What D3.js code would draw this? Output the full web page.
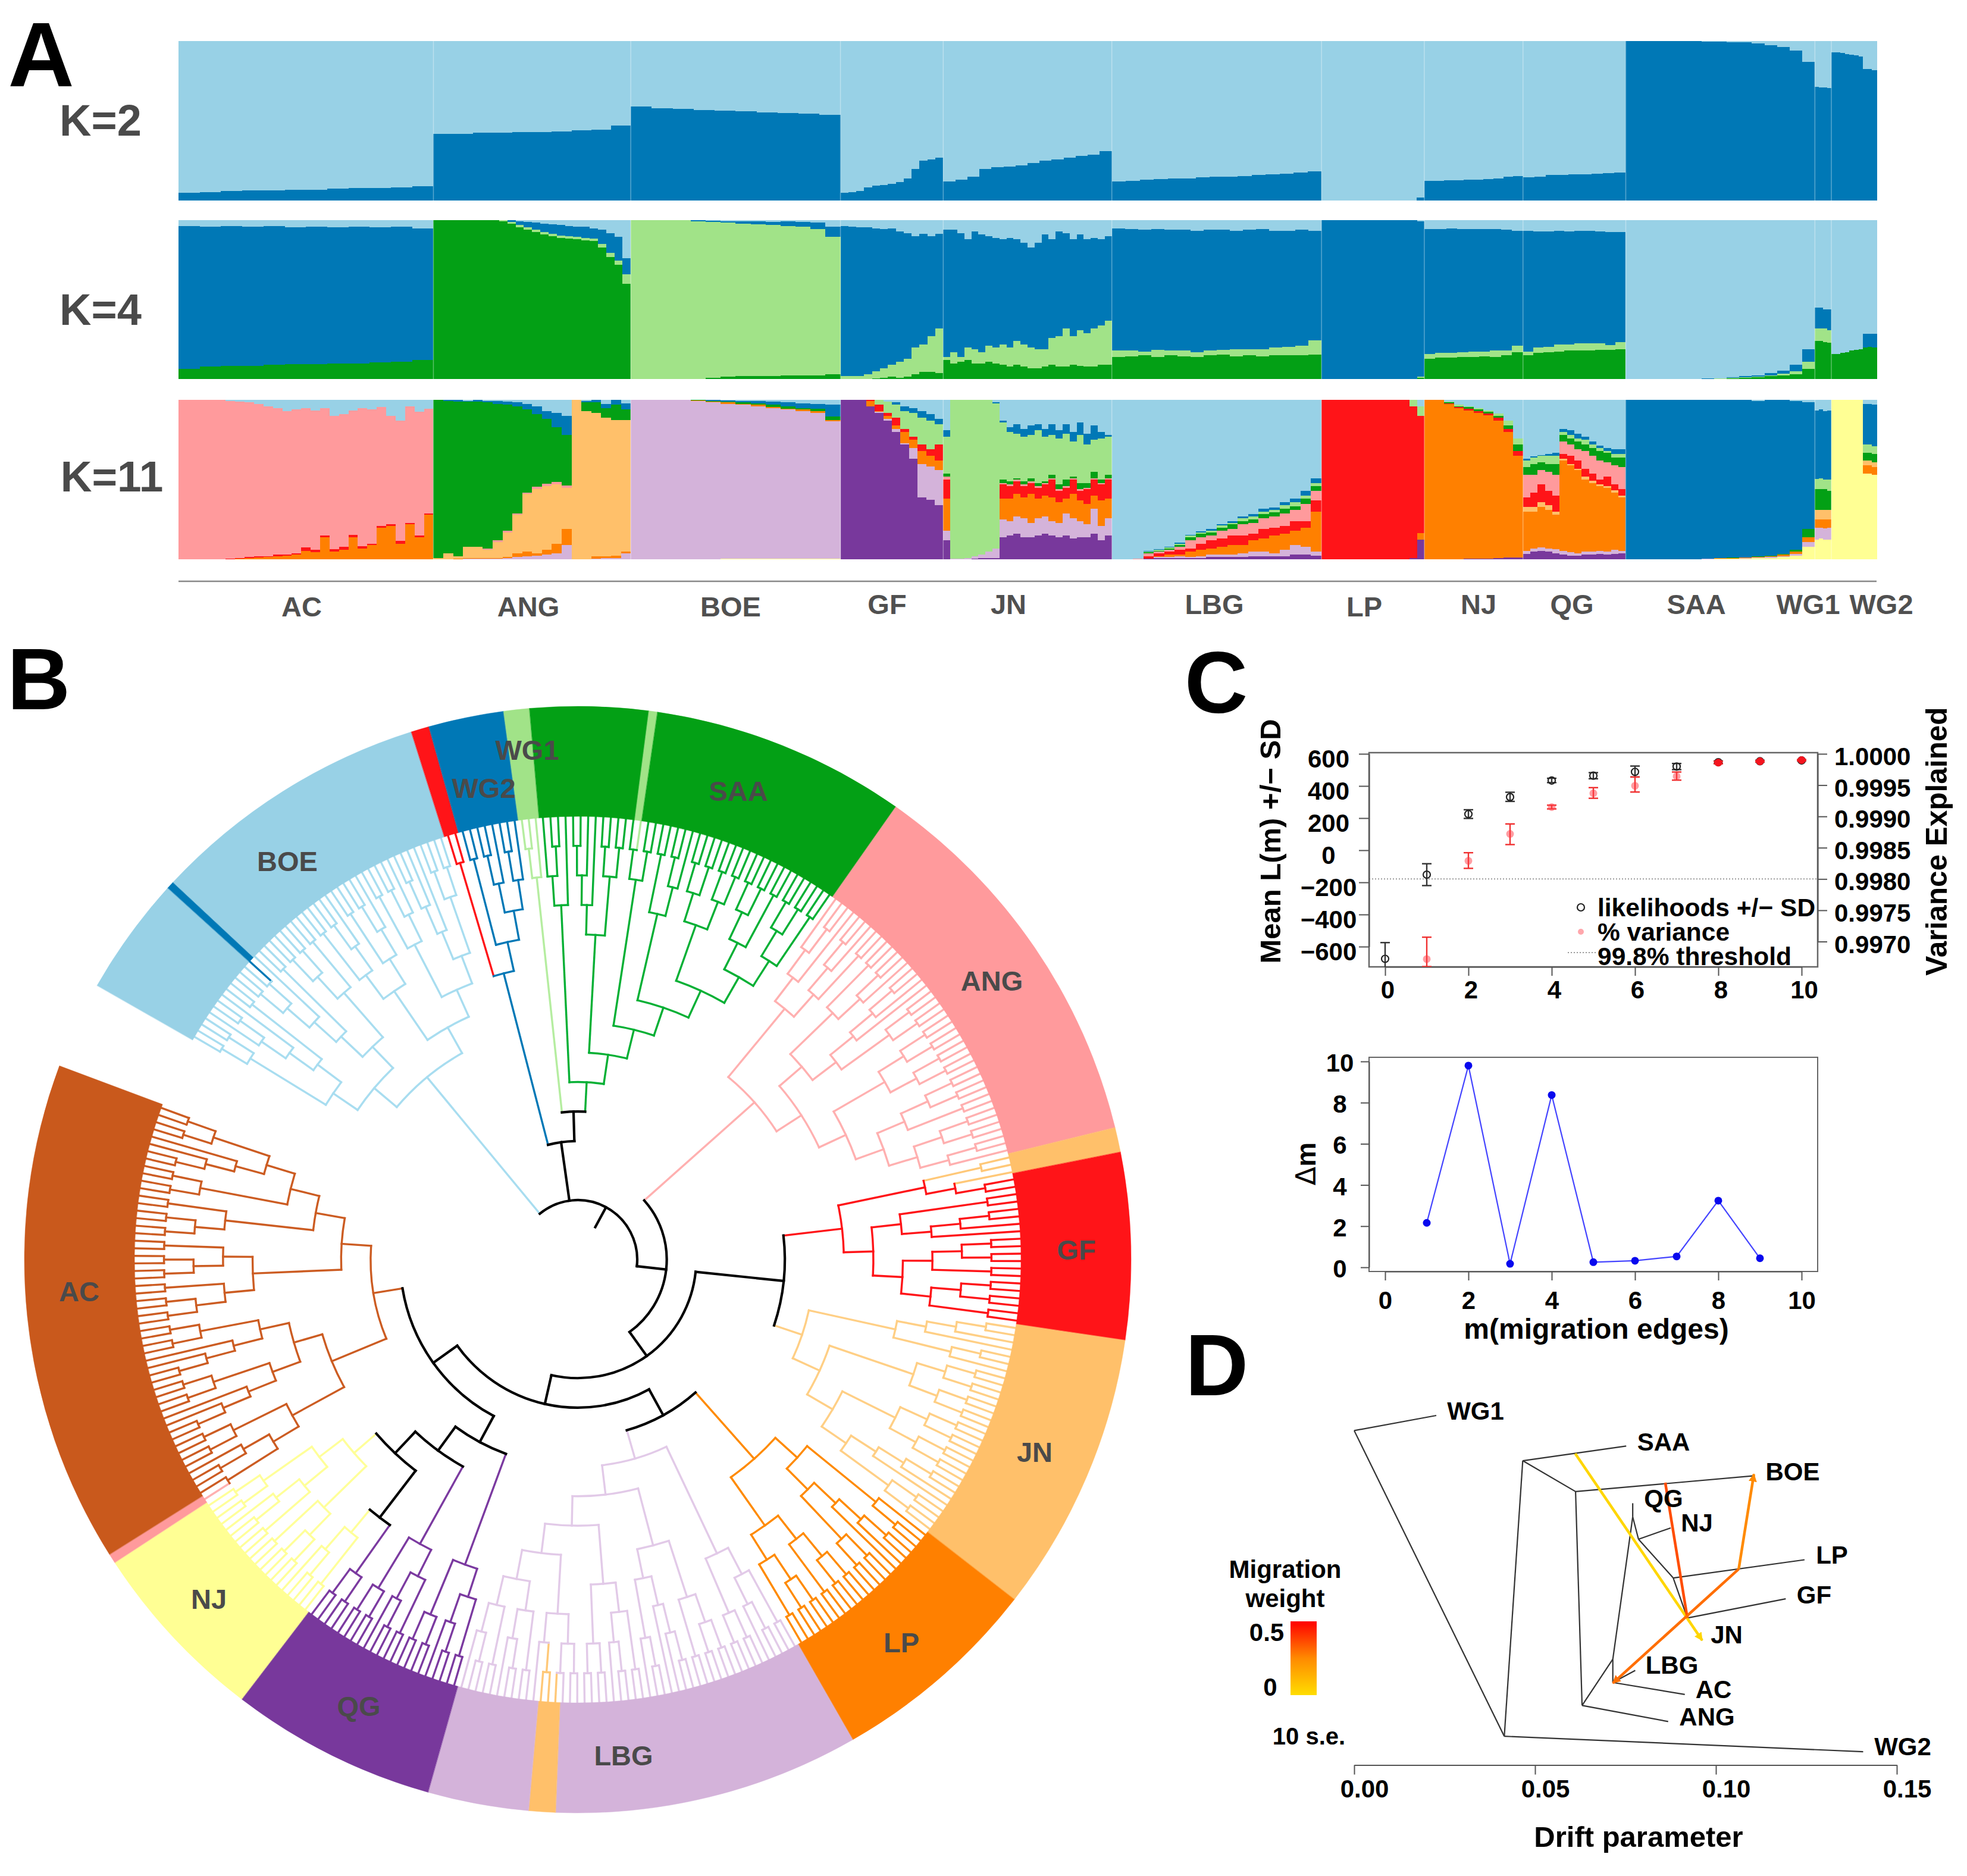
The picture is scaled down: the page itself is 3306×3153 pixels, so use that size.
<!DOCTYPE html>
<html><head><meta charset="utf-8">
<style>html,body{margin:0;padding:0;background:#fff}svg{display:block}text{font-family:"Liberation Sans",Arial,sans-serif;font-weight:700}</style>
<script src="https://cdnjs.cloudflare.com/ajax/libs/d3/7.8.5/d3.min.js"></script>
</head><body>
<svg id="c" width="3306" height="3153" viewBox="0 0 3306 3153"></svg>
<script>
// ---------- Panel A data ----------
const groups=["AC","ANG","BOE","GF","JN","LBG","LP","NJ","QG","SAA","WG1","WG2"];
const groupSizes=[62,48,51,25,41,51,25,24,25,46,4,11];
const palette={blue:"#0078B6",lb:"#98D1E6",green:"#03A015",lg:"#A1E388",pink:"#FF9A9C",lor:"#FFC06A",lilac:"#D4B3DA",purple:"#78389C",deep:"#FF8000",red:"#FF1418",yellow:"#FFFF94"};
const k2Order=["blue","lb"];
const k2=[
[[.05,.055,.06,.065,.065,.07,.07,.075,.08,.08,.085,.09]],
[[.42,.42,.425,.425,.43,.43,.435,.44,.445,.47]],
[[.59,.58,.575,.57,.565,.56,.555,.55,.545,.54]],
[[.05,.055,.06,.085,.095,.10,.105,.115,.14,.20,.25,.26,.27]],
[[.12,.13,.15,.20,.21,.215,.22,.235,.25,.26,.27,.28,.29,.31]],
[[.12,.125,.13,.135,.14,.14,.145,.15,.15,.155,.16,.165,.17,.175,.185]],
[[0,0,0,0,0,0,0,0,0,0,0,0,.02]],
[[.125,.125,.127,.127,.13,.13,.135,.14,.15,.155]],
[[.145,.15,.16,.162,.165,.167,.17,.172,.175]],
[[1,1,1,1,1,1,.998,.996,.995,.992,.985,.975,.965,.94,.87]],
[[.715,.71,.71,.705]],
[[.93,.93,.925,.92,.915,.91,.905,.825,.825,.82]]];
const k4Order=["green","lg","blue","lb"];
const k4=[
[[.065,.08,.085,.085,.09,.095,.095,.10,.10,.105,.11,.12],[.065,.08,.085,.085,.09,.095,.095,.10,.10,.105,.11,.12],[.965,.96,.965,.96,.965,.955,.96,.955,.96,.955,.96,.95]],
[[1,1,1,1,1,1,1,1,.995,.98,.955,.94,.925,.91,.90,.89,.885,.88,.875,.87,.83,.77,.72,.60],[1,1,1,1,1,1,1,1,1,.99,.97,.955,.94,.925,.915,.905,.90,.895,.89,.885,.85,.795,.745,.66],[1,1,1,1,1,1,1,1,1,1,.995,.99,.985,.98,.975,.97,.965,.96,.96,.95,.94,.92,.895,.76]],
[[0,0,0,0,0,.01,.015,.02,.02,.02,.025,.025,.025,.03],[1,1,1,1,.995,.99,.985,.98,.975,.97,.965,.96,.945,.895],[1,1,1,1,1,.998,.995,.995,.995,.99,.995,.99,.985,.96]],
[[0,0,0,0,.005,.01,.015,.01,.015,.03,.045,.045,.04],[.02,.02,.02,.03,.05,.07,.09,.11,.13,.20,.22,.27,.32],[.965,.96,.955,.955,.95,.945,.95,.93,.92,.90,.915,.90,.915]],
[[.12,.10,.11,.12,.10,.10,.11,.10,.09,.08,.09,.08,.07,.07,.08,.09,.08,.08,.09,.085,.08,.08,.09,.09],[.14,.17,.14,.20,.19,.17,.21,.20,.22,.20,.24,.22,.20,.19,.19,.26,.27,.32,.27,.31,.29,.32,.34,.37],[.94,.94,.92,.88,.93,.91,.90,.89,.88,.89,.88,.86,.83,.86,.91,.88,.93,.92,.88,.91,.88,.89,.88,.90]],
[[.14,.145,.15,.14,.15,.145,.14,.15,.155,.145,.15,.145,.15,.15,.15,.155],[.18,.18,.175,.185,.18,.18,.17,.18,.185,.19,.19,.19,.20,.205,.21,.245],[.95,.945,.94,.945,.94,.94,.935,.94,.94,.935,.94,.945,.935,.935,.94,.935]],
[[0,0,0,0,0,0,0,0,0,0,0,0,0,.01],[0,0,0,0,0,0,0,0,0,0,0,0,0,.015],[1,1,1,1,1,1,1,1,1,1,1,1,1,.995]],
[[.13,.135,.135,.14,.14,.145,.14,.15,.17],[.16,.165,.165,.17,.175,.175,.18,.18,.21],[.945,.945,.95,.945,.945,.945,.945,.94,.935]],
[[.15,.165,.17,.175,.18,.18,.18,.185,.185,.19],[.175,.20,.205,.22,.22,.225,.225,.225,.215,.235],[.935,.93,.93,.935,.93,.935,.935,.93,.925,.925]],
[[0,0,0,0,0,0,0,.002,.005,.01,.012,.02,.025,.03,.065],[0,0,0,0,0,0,.002,.003,.007,.012,.015,.025,.035,.05,.11],[0,0,0,0,0,0,.003,.004,.012,.018,.025,.04,.055,.09,.19]],
[[.24,.24,.235,.23],[.32,.32,.32,.31],[.45,.45,.44,.44]],
[[.16,.16,.165,.17,.18,.185,.19,.20,.205,.20],[.16,.16,.165,.17,.18,.185,.19,.20,.205,.20],[.16,.16,.165,.17,.18,.185,.19,.285,.285,.285]]];
const k11Orders=[
["deep","red","pink","lb"],
["lilac","deep","lor","pink","green","blue","lb"],
["yellow","lilac","deep","green","blue","lb"],
["purple","lilac","deep","red","lg","blue","lb"],
["purple","lilac","deep","red","pink","green","lg","blue","lb"],
["purple","lilac","deep","red","pink","green","lg","blue","lb"],
["purple","deep","red","lg","lb"],
["purple","deep","red","green","lg","lb"],
["purple","lilac","deep","lor","red","pink","green","lg","blue","lb"],
["yellow","lilac","deep","green","blue","lb"],
["yellow","lilac","deep","lor","green","lg","blue","lb"],
["yellow","deep","lor","green","lg","blue","lb"]];
const k11=[
[[0,0,0,0,0,.002,.005,.01,.012,.015,.02,.025,.03,.055,.045,.14,.05,.06,.14,.07,.09,.20,.21,.10,.22,.14,.28],
 [0,0,0,0,0,.004,.008,.015,.02,.02,.03,.03,.04,.075,.06,.15,.065,.08,.155,.085,.10,.21,.22,.115,.23,.15,.29],
 [1,1,1,1,1,.995,.99,.985,.975,.96,.95,.93,.94,.95,.935,.95,.90,.91,.935,.95,.94,.955,.90,.87,.96,.925,.945]],
[[0,0,0,.005,.005,.005,.005,.01,.015,.02,.025,.03,.04,.09,0,0,.005,.01,.01,.04],
 [0,.002,.005,.01,.01,.01,.01,.015,.04,.05,.04,.06,.10,.19,.002,.002,.02,.02,.025,.05],
 [.01,.04,.02,.08,.08,.06,.11,.17,.28,.41,.44,.46,.47,.45,1,.93,.92,.89,.875,.875],
 [.01,.04,.02,.08,.08,.07,.12,.18,.29,.42,.455,.475,.485,.465,1,.93,.92,.89,.875,.875],
 [1,.995,.99,.99,.99,.985,.975,.97,.96,.94,.91,.88,.83,.78,1,.985,.985,.95,.97,.94],
 [1,1,1,.995,1,.995,.995,.99,.985,.975,.96,.93,.92,.90,1,.995,1,.975,1,.98]],
[[0,0,0,0,0,.002,.003,.004,.005,.004,.004,.005,.006,.005],
 [1,1,1,1,.995,.985,.975,.97,.96,.95,.94,.93,.92,.865],
 [1,1,1,1,.998,.99,.985,.975,.97,.955,.945,.94,.93,.875],
 [1,1,1,1,1,.995,.99,.985,.98,.97,.96,.95,.945,.895],
 [1,1,1,1,1,1,.998,.995,.995,.99,.985,.98,.975,.97]],
[[1,1,1,.96,.92,.87,.80,.72,.63,.39,.375,.34],
 [1,1,1,.96,.925,.88,.82,.73,.70,.60,.585,.56],
 [1,1,1,.995,.93,.90,.84,.80,.75,.68,.65,.62],
 [1,1,1,1,.97,.92,.89,.82,.77,.72,.69,.72],
 [1,1,1,1,1,.99,.97,.93,.92,.89,.87,.85],
 [1,1,1,1,1,.99,.985,.96,.95,.93,.91,.88]],
[[.12,0,0,0,.005,.01,.01,.01,.14,.15,.16,.14,.14,.15,.16,.15,.14,.15,.13,.14,.14,.16,.12,.15],
 [.18,.005,.005,.01,.02,.03,.05,.07,.25,.24,.27,.26,.23,.26,.27,.24,.23,.29,.26,.24,.22,.32,.21,.26],
 [.38,.005,.005,.01,.02,.03,.05,.07,.38,.38,.41,.39,.41,.38,.40,.39,.36,.38,.41,.37,.35,.40,.37,.38],
 [.50,.005,.005,.01,.02,.03,.05,.07,.47,.46,.49,.46,.48,.45,.47,.50,.43,.45,.50,.43,.44,.50,.47,.50],
 [.52,.005,.005,.01,.02,.03,.05,.07,.48,.47,.50,.47,.49,.46,.48,.51,.44,.46,.51,.44,.45,.51,.48,.51],
 [.54,.005,.005,.01,.02,.03,.05,.07,.50,.49,.51,.49,.51,.48,.49,.53,.47,.50,.52,.48,.48,.55,.50,.53],
 [.77,1,1,1,1,1,1,.98,.86,.80,.79,.77,.78,.81,.77,.78,.76,.79,.74,.78,.72,.75,.76,.77],
 [.81,1,1,1,1,1,1,.985,.87,.83,.85,.82,.84,.85,.82,.85,.81,.85,.80,.86,.79,.84,.80,.78]],
[[0,0,0,.003,.01,.01,.01,.01,.01,.015,.015,.015,.015,.02,.02,.02,.02,.03,.03,.025],
 [0,0,0,.005,.015,.015,.02,.015,.02,.03,.03,.03,.04,.05,.05,.04,.06,.09,.08,.05],
 [0,0,0,.005,.02,.03,.03,.05,.06,.07,.08,.09,.09,.12,.13,.15,.16,.18,.20,.30],
 [0,0,.002,.02,.04,.05,.06,.07,.10,.12,.13,.15,.15,.16,.19,.20,.21,.24,.24,.37],
 [0,0,.003,.04,.05,.06,.08,.12,.14,.15,.18,.19,.22,.23,.26,.27,.29,.31,.35,.43],
 [0,0,.004,.045,.055,.07,.09,.14,.16,.17,.20,.22,.24,.25,.285,.295,.32,.335,.38,.46],
 [0,0,.005,.05,.06,.075,.10,.15,.17,.18,.215,.23,.26,.27,.30,.31,.34,.36,.40,.48],
 [0,0,.006,.055,.065,.08,.105,.155,.175,.19,.22,.24,.27,.285,.32,.325,.36,.38,.43,.51]],
[[0,0,0,0,0,0,0,0,0,0,0,0,.01,.125],
 [0,0,0,0,0,0,0,0,0,0,0,0,.01,.165],
 [1,1,1,1,1,1,1,1,1,1,1,1,.96,.90],
 [1,1,1,1,1,1,1,1,1,1,1,1,1,.96]],
[[0,0,0,.002,.004,.004,.006,.01,.012,.014],
 [1,1,.975,.95,.935,.92,.905,.87,.80,.65],
 [1,1,.98,.955,.945,.93,.915,.89,.82,.68],
 [1,1,.985,.96,.955,.94,.925,.90,.84,.72],
 [1,1,.99,.97,.96,.95,.935,.915,.87,.76]],
[[.035,.05,.055,.05,.04,.03,.025,.025,.03,.03,.035,.03,.035,.04],
 [.055,.07,.075,.07,.065,.055,.045,.04,.05,.05,.055,.05,.06,.055],
 [.30,.30,.33,.31,.28,.62,.59,.56,.50,.48,.46,.45,.42,.39],
 [.33,.33,.36,.34,.30,.63,.60,.57,.52,.495,.47,.46,.435,.40],
 [.39,.42,.47,.43,.40,.66,.65,.62,.57,.54,.50,.52,.47,.44],
 [.53,.53,.56,.55,.53,.74,.72,.69,.68,.65,.62,.61,.59,.58],
 [.58,.60,.61,.60,.60,.78,.76,.74,.72,.70,.68,.67,.64,.64],
 [.62,.64,.65,.65,.65,.80,.78,.76,.75,.72,.70,.68,.66,.66],
 [.63,.645,.655,.66,.67,.82,.81,.79,.77,.74,.715,.70,.69,.69]],
[[0,0,0,0,0,0,.002,.003,.004,.005,.008,.01,.015,.025,.08],
 [0,0,0,0,0,0,.003,.004,.006,.008,.012,.015,.02,.035,.11],
 [0,0,0,0,0,.002,.005,.007,.01,.012,.016,.02,.03,.05,.14],
 [0,0,0,0,0,.002,.006,.008,.011,.014,.018,.024,.035,.06,.19],
 [1,1,1,1,1,1,1,1,1,1,.995,1,1,.995,.985]],
[[.125,.13,.125,.125],[.20,.20,.195,.20],[.25,.25,.25,.25],[.31,.31,.31,.31],[.44,.44,.44,.43],[.505,.51,.50,.50],[.935,.94,.93,.935]],
[[1,1,1,1,1,1,1,.54,.54,.53],[1,1,1,1,1,1,1,.59,.59,.58],[1,1,1,1,1,1,1,.62,.62,.61],[1,1,1,1,1,1,1,.67,.67,.66],[1,1,1,1,1,1,1,.72,.72,.71],[1,1,1,1,1,1,1,.975,.975,.97]]];

// ---------- Panel B data: dot = leaf, brackets join branches ----------
const s4="((..)(..))",s5="((..)((..).))",s6a="(((..)(..))(..))",s6b="(((.(..)).)(..))",s6c="((((..)(..)).)(..))",s7a="(((..)(..))((..).))",s7b="((((..).).)((..).))",s8a="(((..)(..))((..)(..)))",s8b="((((..).).)((..)(..)))",s9="(((..)((..).))((..)(..)))",s10=`(${s5}${s5})`;
const treeBOE=`(((${s4}${s6b})(${s6c}${s6a}))(${s10}(${s5}${s8b})))`;
const treeWG2="((..)((..)(((..).)((..).))))";
const treeWG1="((..).)";
const treeGreen=`(((.(..)).)(${s8b}(${s4}(${s5}(${s8a}(${s6a}${s6a}))))))`;
const treeANG=`((((.(..)).)(((..).)(..)))((${s5}${s8b})(${s8a}(${s6a}${s7a}))))`;
const treeGF=`(((..)(.(..)))(((..)(((..).).))(${s6a}${s6a})))`;
const treeJN=`(${s7b}(${s8a}(${s8a}${s8b})))`;
const treeLP=`(((.(..))${s8b})(${s6a}${s6a}))`;
const treeLBG=`(${s9}((${s6a}${s7b})(${s9}(${s7a}${s10}))))`;
const treeQGa=s9, treeQGb=s9, treeQGc=s4, treeNJb=s5;
const treeNJa=`(${s6a}${s9})`;
const treeAC=`((${s9}(${s8b}${s8b}))((${s6a}${s6a})(${s6a}(${s4}${s8b}))))`;
const cladeTrees={BOE:treeBOE,WG2:treeWG2,WG1:treeWG1,Green:treeGreen,ANG:treeANG,GF:treeGF,JN:treeJN,LP:treeLP,LBG:treeLBG,QGa:treeQGa,QGb:treeQGb,QGc:treeQGc,NJb:treeNJb,NJa:treeNJa,AC:treeAC};
const cladeSpans={BOE:[-60.3,-17.5],WG2:[-17.5,-7.7],WG1:[-7.7,-5],Green:[-5,35.1],ANG:[35.1,76.2],GF:[76.2,98.4],JN:[98.4,127.9],LP:[127.9,150.2],LBG:[150.2,195.7],QGa:[195.7,204.5],QGb:[204.5,213.2],QGc:[213.2,217.4],NJb:[217.4,222.3],NJa:[222.3,236.8],AC:[236.8,290.5]};
const cladeColors={BOE:"#A8DDF0",WG2:"#0078B6",WG1:"#B5EDA0",Green:"#06B035",ANG:"#FFB0B0",GF:"#FF1418",JN:"#FFCF85",LP:"#FF8A00",LBG:"#E2CAE8",QGa:"#7B3AA0",QGb:"#7B3AA0",QGc:"#7B3AA0",NJb:"#FFFF99",NJa:"#FFFF99",AC:"#CC5C22"};
const rootShape=["BOE",["WG2",["WG1","Green"]],["ANG",[["GF","JN"],[["LP","LBG"],[["QGa",["QGb",[["QGc","NJb"],"NJa"]]],"AC"]]]]];
// sector: start, end, ring colour, branch colour
const sectors=[[-60.3,-47.8,"#98D1E6","#A8DDF0"],[-47.8,-47,"#0078B6","#0078B6"],[-47,-17.5,"#98D1E6","#A8DDF0"],[-17.5,-15.6,"#FF1418","#FF1418"],[-15.6,-7.7,"#0078B6","#0078B6"],[-7.7,-5,"#A1E388","#B5EDA0"],[-5,7.4,"#03A015","#06B035"],[7.4,8.3,"#A1E388","#B5EDA0"],[8.3,35.1,"#03A015","#06B035"],[35.1,76.2,"#FF9A9C","#FFB0B0"],[76.2,78.8,"#FFC06A","#FFC878"],[78.8,98.4,"#FF1418","#FF1418"],[98.4,127.9,"#FFC06A","#FFCF85"],[127.9,150.2,"#FF8000","#FF8A00"],[150.2,182.3,"#D4B3DA","#E2CAE8"],[182.3,185.1,"#FFC06A","#FFC878"],[185.1,195.7,"#D4B3DA","#E2CAE8"],[195.7,217.4,"#78389C","#7B3AA0"],[217.4,236.8,"#FFFF94","#FFFF99"],[236.8,237.8,"#FF9A9C","#FFB0B0"],[237.8,290.5,"#C9591C","#CC5C22"]];
const ringLabels=["BOE","WG1","WG2","SAA","ANG","GF","JN","LP","LBG","QG","NJ","AC"];

// ---------- Panel C data ----------
const migEdges=[0,1,2,3,4,5,6,7,8,9,10];
const likMean=[-676,-152,225,331,434,464,488,521,548,554,559];
const likHigh=[-575,-84,252,361,448,483,524,540,556,560,562];
const likLow=[-790,-220,198,304,421,445,456,502,540,548,556];
const varEdges=[1,2,3,4,5,6,7,8,9,10];
const varMean=[.99672,.99829,.99872,.99915,.99937,.99949,.99964,.99986,.99988,.99990];
const varHigh=[.99707,.99842,.99888,.99918,.99946,.99963,.99971,.99988,.99989,.99991];
const varLow=[.9966,.99817,.99855,.99912,.99929,.99939,.99958,.99984,.99987,.99989];
const threshold=.998;
const deltaEdges=[1,2,3,4,5,6,7,8,9];
const deltaM=[2.16,9.8,.17,8.37,.25,.32,.53,3.24,.44];

// ---------- Panel D data: drift, vertical tree position ----------
const treeNodes={W:[0,.268],WG1:[.0227,.224],Root:[.0415,1.16],WG2:[.1407,1.205],S:[.0466,.356],SAA:[.0752,.313],B:[.0612,.446],BOE:[.1105,.4],C:[.063,1.07],ANG:[.0868,1.117],E:[.0715,.935],F:[.0715,1.003],LBG:[.0777,.968],AC:[.0914,1.038],G:[.077,.52],QG:[.077,.48],H:[.0786,.585],NJ:[.0875,.552],I:[.0882,.698],LP:[.1245,.645],J:[.0921,.815],GF:[.1193,.759],JN:[.0962,.88]};
const treeEdges=[["W","WG1"],["W","Root"],["Root","WG2"],["Root","S"],["S","SAA"],["S","B"],["B","BOE"],["B","C"],["C","ANG"],["C","E"],["E","F"],["F","LBG"],["F","AC"],["E","G"],["G","QG"],["G","H"],["H","NJ"],["H","I"],["I","LP"],["I","J"],["J","GF"],["J","JN"]];
// from, to, weight
const migrations=[[[.0611,.335],[.0962,.88],.02,true],[[.086,.42],[.0921,.815],.36,false],[[.1063,.672],[.1105,.395],.25,true],[[.1063,.672],[.0715,1.005],.3,true]];
const driftTicks=[0,.05,.1,.15];

// ---------- Drawing ----------
const svg=d3.select("#c");
svg.append("rect").attr("width",3306).attr("height",3153).attr("fill","#fff");
function txt(x,y,s,size,o={}){return svg.append("text").attr("x",x).attr("y",y).attr("dy",".36em").attr("text-anchor",o.anchor||"middle").attr("font-size",size).attr("fill",o.fill||"#000").attr("transform",o.rot?`rotate(${o.rot},${x},${y})`:null).text(s);}

// Panel A
const cum=d3.cumsum(groupSizes);
const groupX=d3.scaleLinear([0,cum[cum.length-1]],[300,3154]);
function structRow(top,bottom,tables,ordersFor){
  const y=d3.scaleLinear([0,1],[bottom,top]);
  const g=svg.append("g").attr("shape-rendering","crispEdges");
  tables.forEach((table,gi)=>{
    const x0=groupX(gi?cum[gi-1]:0),x1=groupX(cum[gi]);
    const order=ordersFor(gi),n=d3.max(table,s=>s.length);
    const cx=d3.scaleLinear([0,n],[x0,x1]);
    const cells=[];
    d3.range(n).forEach(c=>{
      let prev=0;
      order.forEach((name,si)=>{
        const v=si<table.length?Math.max(prev,table[si][c]??prev):1;
        if(v>prev)cells.push({c,y0:prev,y1:v,name});
        prev=v;
      });
    });
    g.selectAll(null).data(cells).join("rect")
      .attr("x",d=>cx(d.c)).attr("width",d=>cx(d.c+1)-cx(d.c)+.6)
      .attr("y",d=>y(d.y1)).attr("height",d=>y(d.y0)-y(d.y1)+.3)
      .attr("fill",d=>palette[d.name]);
  });
  svg.append("g").selectAll("line").data(cum.slice(0,-1)).join("line")
    .attr("x1",d=>groupX(d)).attr("x2",d=>groupX(d)).attr("y1",top).attr("y2",bottom)
    .attr("stroke","#fff").attr("stroke-opacity",.35).attr("stroke-width",1.5);
}
structRow(69,337,k2,()=>k2Order);
structRow(370,637,k4,()=>k4Order);
structRow(672,940,k11,i=>k11Orders[i]);
svg.append("line").attr("x1",300).attr("x2",3154).attr("y1",977).attr("y2",977).attr("stroke","#888").attr("stroke-width",2.5);
const groupLabelPos=[[507,1019],[888,1019],[1228,1019],[1491,1015],[1695,1015],[2041,1015],[2293,1019],[2485,1015],[2642,1015],[2851,1015],[3039,1015],[3162,1015]];
groups.forEach((g,i)=>txt(groupLabelPos[i][0],groupLabelPos[i][1],g,47,{fill:"#505050"}));
txt(169,201,"K=2",74,{fill:"#4a4a4a"});txt(169,519,"K=4",74,{fill:"#4a4a4a"});txt(188,800,"K=11",73,{fill:"#4a4a4a"});
txt(69,90,"A",154);txt(65,1139,"B",147);txt(2044,1145,"C",147);txt(2045,2292,"D",147);

// Panel B
function parseTree(s){let i=0;function rec(){if(s[i]==="."){i++;return {};}i++;const ch=[];while(s[i]!==")")ch.push(rec());i++;return {children:ch};}return rec();}
function compose(x){if(typeof x==="string"){const o=parseTree(cladeTrees[x]);o.clade=x;return o;}return {children:x.map(compose)};}
const rad=d=>d*Math.PI/180;
const rScale=d3.scaleLinear([0,13],[745,100]);
const root=d3.hierarchy(compose(rootShape));
root.each(n=>{if(n.data.clade){const [a,b]=cladeSpans[n.data.clade];const lv=n.leaves();const sc=d3.scaleLinear([0,lv.length],[a,b]);lv.forEach((l,i)=>l.angle=sc(i+.5));n.each(m=>m.clade=n.data.clade);}});
const sectorOf=a=>sectors.find(s=>a>=s[0]&&a<=s[1])||sectors[0];
root.eachAfter(n=>{
  if(!n.children){n.col=sectorOf(n.angle)[3];return;}
  n.angle=(n.children[0].angle+n.children[n.children.length-1].angle)/2;
  if(!n.clade){n.col="#000";return;}
  const cs=new Set(n.leaves().map(l=>l.col));
  n.col=cs.size===1?[...cs][0]:cladeColors[n.clade];
});
const tree=svg.append("g").attr("transform","translate(971,2117)").attr("fill","none").attr("stroke-linecap","square");
const lineOf=(a,r0,r1)=>{const p=d3.path(),s=d3.pointRadial(rad(a),r0),e=d3.pointRadial(rad(a),r1);p.moveTo(s[0],s[1]);p.lineTo(e[0],e[1]);return p.toString();};
const arcOf=(a0,a1,r)=>{const p=d3.path();p.arc(0,0,r,rad(a0)-Math.PI/2,rad(a1)-Math.PI/2,false);return p.toString();};
const widthOf=c=>c==="#000"?4.2:3.4;
tree.selectAll("path.l").data(root.links()).join("path").attr("class","l")
  .attr("d",d=>lineOf(d.target.angle,rScale(d.source.height),rScale(d.target.height)))
  .attr("stroke",d=>d.target.col).attr("stroke-width",d=>widthOf(d.target.col));
tree.selectAll("path.a").data(root.descendants().filter(d=>d.children)).join("path").attr("class","a")
  .attr("d",d=>arcOf(d.children[0].angle,d.children[d.children.length-1].angle,rScale(d.height)))
  .attr("stroke",d=>d.col).attr("stroke-width",d=>widthOf(d.col));
tree.append("path").attr("d",lineOf(root.angle,rScale(13),62)).attr("stroke","#000").attr("stroke-width",4.2);
const ring=d3.arc().innerRadius(745).outerRadius(930);
tree.selectAll("path.s").data(sectors).join("path").attr("class","s")
  .attr("d",d=>ring({startAngle:rad(d[0]),endAngle:rad(d[1])})).attr("fill",d=>d[2]).attr("stroke",d=>d[2]).attr("stroke-width",.5);
const ringLabelPos=[[483,1447],[886,1260],[813,1324],[1241,1329],[1667,1648],[1809,2100],[1739,2440],[1515,2760],[1048,2950],[603,2867],[351,2687],[133,2170]];
ringLabels.forEach((s,i)=>txt(ringLabelPos[i][0],ringLabelPos[i][1],s,47,{fill:"#4a4a4a"}));

// Panel C top
const boxX0=2301,boxX1=3055;
const xC=d3.scaleLinear([0,10],[2328,3028]);
const yL=d3.scaleLinear([-600,600],[1591,1267]);
const yR=d3.scaleLinear([.997,1],[1582.5,1267]);
svg.append("clipPath").attr("id","cTop").append("rect").attr("x",boxX0).attr("y",1265).attr("width",boxX1-boxX0).attr("height",360);
svg.append("rect").attr("x",boxX0).attr("y",1265).attr("width",boxX1-boxX0).attr("height",360).attr("fill","none").attr("stroke","#666").attr("stroke-width",2.5);
svg.append("line").attr("x1",boxX0).attr("x2",boxX1).attr("y1",yR(threshold)).attr("y2",yR(threshold)).attr("stroke","#999").attr("stroke-width",2).attr("stroke-dasharray","2 3");
function styleAxis(g){g.select(".domain").attr("stroke","#555").attr("stroke-width",2);g.selectAll(".tick line").attr("stroke","#555").attr("stroke-width",2);g.selectAll("text").attr("fill","#000").attr("font-size",42).attr("font-family",'"Liberation Sans",Arial,sans-serif');return g;}
const axBottom=svg.append("g").attr("transform","translate(0,1625)").call(d3.axisBottom(xC).tickValues([0,2,4,6,8,10]).tickSize(15).tickSizeOuter(0));
styleAxis(axBottom);axBottom.selectAll("text").attr("dy",null).attr("y",38).attr("dominant-baseline","central").attr("dx",4);
const axLeft=svg.append("g").attr("transform",`translate(${boxX0},0)`).call(d3.axisLeft(yL).tickValues([-600,-400,-200,0,200,400,600]).tickSize(17).tickSizeOuter(0));
styleAxis(axLeft);axLeft.selectAll("text").attr("text-anchor","middle").attr("x",-68).attr("dy",null).attr("dominant-baseline","central").attr("y",8);
const axRight=svg.append("g").attr("transform",`translate(${boxX1},0)`).call(d3.axisRight(yR).tickValues([.997,.9975,.998,.9985,.999,.9995,1]).tickFormat(d3.format(".4f")).tickSize(16).tickSizeOuter(0));
styleAxis(axRight);axRight.selectAll("text").attr("x",28).attr("dy",null).attr("dominant-baseline","central").attr("y",4);
const cPlot=svg.append("g").attr("clip-path","url(#cTop)");
function errBars(xs,lo,hi,col,sc){
  const g=cPlot.append("g").attr("stroke",col).attr("stroke-width",2.4);
  xs.forEach((m,i)=>{
    g.append("line").attr("x1",xC(m)).attr("x2",xC(m)).attr("y1",sc(lo[i])).attr("y2",sc(hi[i]));
    [lo[i],hi[i]].forEach(v=>g.append("line").attr("x1",xC(m)-8).attr("x2",xC(m)+8).attr("y1",sc(v)).attr("y2",sc(v)));
  });
}
errBars(migEdges,likLow,likHigh,"#333",yL);
cPlot.append("g").selectAll("circle").data(migEdges).join("circle").attr("cx",d=>xC(d)).attr("cy",(d,i)=>yL(likMean[i])).attr("r",6).attr("fill","none").attr("stroke","#222").attr("stroke-width",2.2);
errBars(varEdges,varLow,varHigh,"#F03030",yR);
cPlot.append("g").selectAll("circle").data(varEdges).join("circle").attr("cx",d=>xC(d)).attr("cy",(d,i)=>yR(varMean[i])).attr("r",6.5).attr("fill",(d,i)=>i>=7?"#F5141E":"rgba(255,60,70,.5)");
svg.append("circle").attr("cx",2657).attr("cy",1525).attr("r",6).attr("fill","none").attr("stroke","#222").attr("stroke-width",2.2);
svg.append("circle").attr("cx",2657).attr("cy",1566).attr("r",5).attr("fill","rgba(255,60,70,.45)");
svg.append("line").attr("x1",2635).attr("x2",2682).attr("y1",1601).attr("y2",1601).attr("stroke","#999").attr("stroke-width",2).attr("stroke-dasharray","2 3");
txt(2685,1525,"likelihoods +/− SD",42.5,{anchor:"start"});
txt(2685,1566,"% variance",42.5,{anchor:"start"});
txt(2685,1607,"99.8% threshold",42.5,{anchor:"start"});
txt(2134,1414,"Mean L(m) +/− SD",49,{rot:-90});
txt(3254,1414,"Variance Explained",49.5,{rot:-90});

// Panel C bottom
const yD=d3.scaleLinear([0,10],[2130,1784]);
svg.append("rect").attr("x",boxX0).attr("y",1777).attr("width",boxX1-boxX0).attr("height",360).attr("fill","none").attr("stroke","#666").attr("stroke-width",2);
const axB2=svg.append("g").attr("transform","translate(0,2137)").call(d3.axisBottom(xC).tickValues([0,2,4,6,8,10]).tickSize(15).tickSizeOuter(0));
styleAxis(axB2);axB2.selectAll("text").attr("dy",null).attr("y",48).attr("dominant-baseline","central");
const axL2=svg.append("g").attr("transform",`translate(${boxX0},0)`).call(d3.axisLeft(yD).tickValues([0,2,4,6,8,10]).tickSize(14).tickSizeOuter(0));
styleAxis(axL2);axL2.selectAll("text").attr("text-anchor","middle").attr("x",-49).attr("dy",null).attr("dominant-baseline","central").attr("y",2);
svg.append("path").attr("fill","none").attr("stroke","#4444FF").attr("stroke-width",2.2)
  .attr("d",d3.line().x((d,i)=>xC(deltaEdges[i])).y(d=>yD(d))(deltaM));
svg.append("g").selectAll("circle").data(deltaM).join("circle").attr("cx",(d,i)=>xC(deltaEdges[i])).attr("cy",d=>yD(d)).attr("r",6.5).attr("fill","#0808EE");
const dm=txt(2194,1956,"",46,{rot:-90});
dm.append("tspan").attr("font-weight",400).attr("font-family","DejaVu Sans").text("Δ");
dm.append("tspan").text("m");
txt(2683,2233,"m(migration edges)",48);

// Panel D
const xD=d3.scaleLinear([0,.15],[2276,3188]);
const yT=d3.scaleLinear([0,1],[2250,2826]);
const defs=svg.append("defs");
const migColor=d3.scaleLinear([0,.25,.5],["#FFDD00","#FF8A00","#FF0000"]);
const grad=defs.append("linearGradient").attr("id","mw").attr("x1",0).attr("y1",1).attr("x2",0).attr("y2",0);
[0,.5,1].forEach(t=>grad.append("stop").attr("offset",t).attr("stop-color",migColor(t*.5)));
svg.append("g").selectAll("line").data(treeEdges).join("line")
  .attr("x1",d=>xD(treeNodes[d[0]][0])).attr("y1",d=>yT(treeNodes[d[0]][1]))
  .attr("x2",d=>xD(treeNodes[d[1]][0])).attr("y2",d=>yT(treeNodes[d[1]][1]))
  .attr("stroke","#333").attr("stroke-width",2.2);
migrations.forEach((m,i)=>{
  const c=migColor(m[2]);
  if(m[3]){const mk=defs.append("marker").attr("id","ah"+i).attr("viewBox","0 0 10 10").attr("refX",9).attr("refY",5).attr("markerUnits","userSpaceOnUse").attr("markerWidth",14).attr("markerHeight",14).attr("orient","auto");
    mk.append("path").attr("d","M0,0L10,5L0,10z").attr("fill",c);}
  svg.append("line").attr("x1",xD(m[0][0])).attr("y1",yT(m[0][1])).attr("x2",xD(m[1][0])).attr("y2",yT(m[1][1]))
    .attr("stroke",c).attr("stroke-width",4.5).attr("marker-end",m[3]?`url(#ah${i})`:null);
});
const tipPos=[["WG1",2480,2371],["SAA",2796,2423],["BOE",3013,2473],["QG",2796,2518],["NJ",2852,2559],["LP",3079,2613],["GF",3049,2680],["JN",2902,2747],["LBG",2810,2798],["AC",2880,2839],["ANG",2869,2885],["WG2",3198,2935]];
tipPos.forEach(d=>txt(d[1],d[2],d[0],42));
const axD=svg.append("g").attr("transform","translate(0,2966.5)").call(d3.axisBottom(xD).tickValues(driftTicks).tickFormat(d3.format(".2f")).tickSize(16).tickSizeOuter(0));
styleAxis(axD);axD.selectAll("text").attr("dy",null).attr("y",40).attr("dominant-baseline","central").attr("dx",17);
txt(2754,3086,"Drift parameter",49);
svg.append("rect").attr("x",2169).attr("y",2725).attr("width",44).attr("height",124).attr("fill","url(#mw)");
txt(2160,2637,"Migration",42);txt(2160,2686,"weight",42);
txt(2129,2743,"0.5",42);txt(2135,2835,"0",42);txt(2200,2918,"10 s.e.",40);
</script>
</body></html>
